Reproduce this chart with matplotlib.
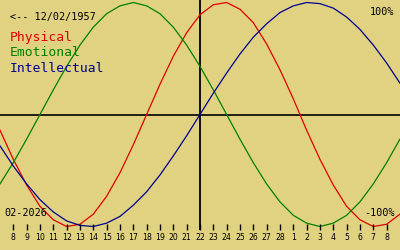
import matplotlib
matplotlib.use("Agg")
import matplotlib.pyplot as plt

# day index -1..29 (0 = Feb 8, 14 = Feb 22 "today", 28 = Mar 8)
day_index = list(range(-1, 30))
physical = [-0.14, -0.40, -0.63, -0.82, -0.94, -1.00, -0.98, -0.89, -0.73, -0.52,
            -0.27, 0.00, 0.27, 0.52, 0.73, 0.89, 0.98, 1.00, 0.94, 0.82,
            0.63, 0.40, 0.14, -0.14, -0.40, -0.63, -0.82, -0.94, -1.00, -0.98, -0.89]
emotional = [-0.62, -0.43, -0.22, 0.00, 0.22, 0.43, 0.62, 0.78, 0.90, 0.97,
             1.00, 0.97, 0.90, 0.78, 0.62, 0.43, 0.22, 0.00, -0.22, -0.43,
             -0.62, -0.78, -0.90, -0.97, -1.00, -0.97, -0.90, -0.78, -0.62, -0.43, -0.22]
intellectual = [-0.28, -0.46, -0.62, -0.76, -0.87, -0.95, -0.99, -1.00, -0.97, -0.91,
                -0.81, -0.69, -0.54, -0.37, -0.19, 0.00, 0.19, 0.37, 0.54, 0.69,
                0.81, 0.91, 0.97, 1.00, 0.99, 0.95, 0.87, 0.76, 0.62, 0.46, 0.28]
tick_labels = ["8", "9", "10", "11", "12", "13", "14", "15", "16", "17", "18", "19",
               "20", "21", "22", "23", "24", "25", "26", "27", "28",
               "1", "2", "3", "4", "5", "6", "7", "8"]
today_index = 14
birth_label = "<-- 12/02/1957"
month_label = "02-2026"
series_names = ["Physical", "Emotional", "Intellectual"]
series_colors = ["#e00000", "#008000", "#000090"]

BG = "#e1d282"
W, H = 400, 250
fig = plt.figure(figsize=(W / 100, H / 100), dpi=100)
fig.patch.set_facecolor(BG)
ax = fig.add_axes([0, 0, 1, 1])
ax.set_facecolor(BG)
ax.axis("off")

px = 13.333
# pixel mapping: x_pix = 13.3 + 13.333*i ; y_pix = 114.5 - 112*v
ax.set_xlim(-13.3 / px, (W - 13.3) / px)
ax.set_ylim((114.5 - H) / 112, 114.5 / 112)

ax.axhline(0, color="black", lw=1.2, zorder=1)
ax.vlines(today_index, (114.5 - 230) / 112, 114.5 / 112 + 0.05, color="black", lw=1.3, zorder=1)

for vals, col in zip([physical, emotional, intellectual], series_colors):
    ax.plot(day_index, vals, color=col, lw=0.9, zorder=2)

tick_pos = list(range(len(tick_labels)))
ax.vlines(tick_pos, (114.5 - 230) / 112, (114.5 - 224) / 112, color="black", lw=1.0, zorder=3)
for p, lab in zip(tick_pos, tick_labels):
    ax.text(p, (114.5 - 237.5) / 112, lab, ha="center", va="center",
            fontsize=5.6, family="DejaVu Sans", color="black")

mono = "DejaVu Sans Mono"
fig.text(10 / W, 1 - 17 / H, birth_label, fontsize=7.3, family=mono, color="black",
         ha="left", va="center")
for k, (name, col) in enumerate(zip(series_names, series_colors)):
    fig.text(10 / W, 1 - (38 + 15 * k) / H, name, fontsize=9.4, family=mono, color=col,
             ha="left", va="center")
fig.text(394 / W, 1 - 12 / H, "100%", fontsize=7.3, family=mono, color="black",
         ha="right", va="center")
fig.text(395 / W, 1 - 213 / H, "-100%", fontsize=7.3, family=mono, color="black",
         ha="right", va="center")
fig.text(4 / W, 1 - 213 / H, month_label, fontsize=7.3, family=mono, color="black",
         ha="left", va="center")

fig.savefig("out.png", dpi=100, facecolor=BG)
